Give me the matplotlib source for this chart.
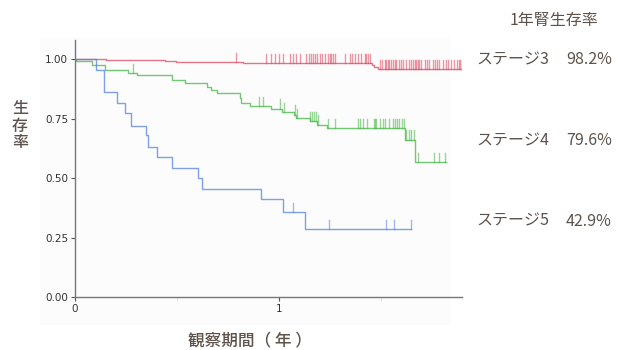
import matplotlib
matplotlib.use("Agg")
import matplotlib.pyplot as plt
from matplotlib.patches import Rectangle

# ---- data (years, survival) ----
red_t = [0, 0.15, 0.441, 0.495, 0.824, 1.456, 1.47, 1.49]
red_s = [1.0, 0.996, 0.990, 0.986, 0.982, 0.975, 0.966, 0.958]
red_end = 1.902
red_cens = [0.788, 0.940, 0.964, 0.980, 1.002, 1.021, 1.054, 1.070, 1.087, 1.106,
            1.136, 1.147, 1.160, 1.168, 1.177, 1.188, 1.201, 1.214, 1.225, 1.242,
            1.250, 1.258, 1.266, 1.275, 1.324, 1.351, 1.361, 1.377, 1.389, 1.405,
            1.422, 1.430, 1.438, 1.446,
            1.495, 1.508, 1.520, 1.528, 1.536, 1.544, 1.552, 1.560, 1.569, 1.577,
            1.593, 1.601, 1.609, 1.626, 1.642, 1.650, 1.659, 1.667, 1.675, 1.683,
            1.691, 1.699, 1.716, 1.727, 1.740, 1.757, 1.765, 1.776, 1.789, 1.806,
            1.819, 1.830, 1.846, 1.863, 1.874, 1.884, 1.891, 1.899]

green_t = [0, 0.005, 0.083, 0.147, 0.261, 0.302, 0.475, 0.539, 0.646, 0.670, 0.695,
           0.809, 0.817, 0.858, 0.961, 1.018, 1.074, 1.083, 1.152, 1.188, 1.237,
           1.618, 1.668]
green_s = [1.0, 0.990, 0.977, 0.953, 0.941, 0.931, 0.912, 0.899, 0.881, 0.870, 0.856,
           0.837, 0.816, 0.802, 0.790, 0.777, 0.765, 0.751, 0.738, 0.723, 0.709,
           0.660, 0.566]
green_end = 1.819
green_cens = [0.286, 0.902, 0.923, 1.005, 1.025, 1.078, 1.088, 1.152, 1.162, 1.172,
              1.181, 1.193, 1.242, 1.276, 1.387, 1.397, 1.413, 1.433, 1.466, 1.473,
              1.479, 1.499, 1.511, 1.520, 1.541, 1.560, 1.572, 1.582, 1.593, 1.604,
              1.613, 1.627, 1.642, 1.652, 1.662, 1.683, 1.761, 1.789, 1.815]

blue_t = [0, 0.103, 0.142, 0.206, 0.244, 0.273, 0.351, 0.356, 0.403, 0.474, 0.603,
          0.624, 0.915, 1.022, 1.127]
blue_s = [1.0, 0.955, 0.860, 0.814, 0.772, 0.720, 0.680, 0.632, 0.590, 0.543, 0.500,
          0.453, 0.410, 0.356, 0.284]
blue_end = 1.65
blue_cens = [1.070, 1.245, 1.528, 1.567, 1.650]

stages = ["ステージ3", "ステージ4", "ステージ5"]
rates = ["98.2%", "79.6%", "42.9%"]
yticks = [0.0, 0.25, 0.5, 0.75, 1.0]
ytick_labels = ["0.00", "0.25", "0.50", "0.75", "1.00"]
xticks = [0, 1]

plt.rcParams['font.family'] = ['Noto Sans CJK JP', 'DejaVu Sans']

fig = plt.figure(figsize=(6.24, 3.5), dpi=100)
fig.patch.set_facecolor('white')
# faint panel
fig.add_artist(Rectangle((40/624, 1-325/350), 411/624, 288/350,
                         transform=fig.transFigure, facecolor='#fcfcfc',
                         edgecolor='none', zorder=0))

ax = fig.add_axes([75/624, 53/350, 387/624, 257/350])
ax.patch.set_alpha(0)
ax.set_xlim(0, 1.9)
ax.set_ylim(0, 1.08)

def km(t, s, end, cens, color):
    xs = list(t) + [end]
    ys = list(s) + [s[-1]]
    ax.step(xs, ys, where='post', color=color, lw=1.0, alpha=0.75, zorder=3)
    for c in cens:
        idx = max(i for i, tt in enumerate(t) if tt <= c)
        y = s[idx]
        ax.plot([c, c], [y, y + 0.04], color=color, lw=1.0, alpha=0.55, zorder=3)

km(red_t, red_s, red_end, red_cens, '#d9475f')
km(green_t, green_s, green_end, green_cens, '#45b545')
km(blue_t, blue_s, blue_end, blue_cens, '#5580e0')

for sp in ['top', 'right']:
    ax.spines[sp].set_visible(False)
for sp in ['left', 'bottom']:
    ax.spines[sp].set_color('#777777')
    ax.spines[sp].set_linewidth(1.0)

ax.set_yticks(yticks)
ax.set_yticklabels(ytick_labels, family='DejaVu Sans', fontsize=7.5, color='#333333')
ax.set_xticks(xticks)
ax.set_xticklabels([str(x) for x in xticks], family='DejaVu Sans', fontsize=7.5, color='#333333')
ax.set_xticks([0.5, 1.5], minor=True)
ax.tick_params(axis='both', which='major', length=3, width=0.8, color='#555555', pad=2)
ax.tick_params(axis='x', which='minor', length=2, width=0.6, color='#dddddd')

txtc = '#5e534b'
fig.text(20/624, 1-126/350, "生\n存\n率", ha='center', va='center', fontsize=11.5,
         color=txtc, fontweight='medium', linespacing=1.0)
fig.text(250/624, 1-340/350, "観察期間（ 年 ）", ha='center', va='center', fontsize=12,
         color=txtc, fontweight='medium')
fig.text(554/624, 1-20/350, "1年腎生存率", ha='center', va='center', fontsize=11.5,
         color=txtc)
for i, (st, r) in enumerate(zip(stages, rates)):
    y = [60, 141, 221][i]
    fig.text(476/624, 1-y/350, st, ha='left', va='center', fontsize=11.5, color=txtc)
    fig.text(612/624, 1-y/350, r, ha='right', va='center', fontsize=11.5, color=txtc)

fig.savefig('out.png', dpi=100)
